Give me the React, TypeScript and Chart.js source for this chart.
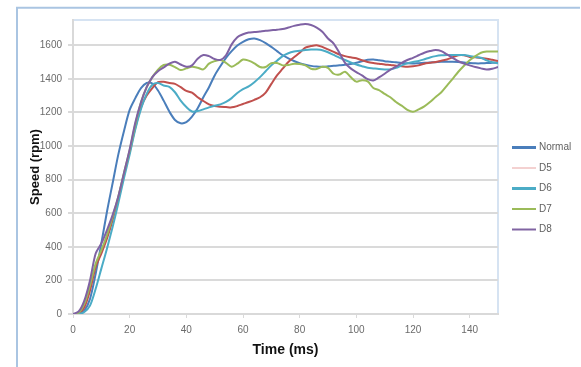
import React, { useEffect, useRef } from "react";
import { Chart, registerables } from "chart.js";

Chart.register(...registerables);

// Time axis (ms)
const TIME_MS = [
  0, 2, 4, 6, 8, 10, 12, 14, 16, 18,
  20, 22, 24, 26, 28, 30, 32, 34, 36, 38,
  40, 42, 44, 46, 48, 50, 52, 54, 56, 58,
  60, 62, 64, 66, 68, 70, 72, 74, 76, 78,
  80, 82, 84, 86, 88, 90, 92, 94, 96, 98,
  100, 102, 104, 106, 108, 110, 112, 114, 116, 118,
  120, 122, 124, 126, 128, 130, 132, 134, 136, 138,
  140, 142, 144, 146, 148, 150,
];

const SERIES_NAMES = ["Normal", "D5", "D6", "D7", "D8"];

const NORMAL = [
  0, 3, 20, 90, 240, 420, 610, 780, 950, 1090,
  1215, 1285, 1345, 1375, 1372, 1330, 1270, 1205, 1155, 1135,
  1142, 1175, 1225, 1290, 1350, 1420, 1475, 1525, 1565, 1598,
  1620, 1635, 1640, 1630, 1612, 1590, 1565, 1540, 1522, 1506,
  1493, 1484, 1477, 1473, 1472, 1474, 1477, 1480, 1484, 1488,
  1495, 1505, 1513, 1515, 1510, 1505, 1502, 1498, 1494, 1492,
  1491, 1493, 1495, 1497, 1499, 1501, 1502, 1502, 1500, 1497,
  1494, 1492, 1492, 1494, 1495, 1496,
];

const D5 = [
  0, 3, 40, 140, 280, 360, 450, 560, 690, 830,
  965, 1110, 1230, 1300, 1345, 1380, 1382, 1375, 1370, 1350,
  1328, 1318, 1290, 1268, 1248, 1238, 1234, 1232, 1230, 1238,
  1250, 1262, 1275, 1290, 1318, 1370, 1420, 1460, 1500, 1528,
  1555, 1585, 1595, 1600, 1590, 1575, 1560, 1545, 1535, 1528,
  1522, 1510, 1500, 1494, 1490, 1485, 1482, 1478, 1475, 1472,
  1474, 1480, 1490, 1495, 1500, 1508, 1515, 1528, 1540, 1540,
  1530, 1528, 1524, 1520, 1513, 1506,
];

const D6 = [
  0, 0, 12, 50, 150, 270, 390, 520, 660, 810,
  950, 1100, 1220, 1310, 1365, 1375, 1360, 1352, 1320, 1270,
  1232, 1205, 1208, 1218, 1230, 1240, 1248, 1262, 1285, 1315,
  1338, 1355, 1380, 1410, 1445, 1480, 1508, 1535, 1552, 1562,
  1567, 1572, 1575, 1574, 1570, 1558, 1542, 1526, 1512, 1498,
  1485, 1475, 1466, 1462, 1458, 1456, 1456, 1465, 1480, 1492,
  1500, 1506, 1516, 1527, 1535, 1540, 1542, 1542, 1542, 1541,
  1536, 1530, 1525, 1510, 1498, 1492,
];

const D7 = [
  0, 8, 60, 170, 300, 380, 470, 580, 700, 840,
  975, 1130, 1260, 1350, 1410, 1455, 1482, 1484, 1470, 1452,
  1462, 1472, 1466, 1456, 1490, 1505, 1512, 1495, 1472, 1490,
  1515, 1508, 1492, 1470, 1470, 1493, 1494, 1480, 1482, 1490,
  1488, 1480, 1460, 1458, 1472, 1465, 1430, 1425, 1442, 1410,
  1383, 1392, 1385, 1345, 1333, 1310, 1290, 1262, 1240, 1215,
  1204, 1218, 1236, 1262, 1292, 1320, 1360, 1400, 1442, 1478,
  1510, 1535, 1555, 1562, 1563, 1562,
];

const D8 = [
  0, 15, 80, 200, 360, 420, 500, 590, 700, 840,
  980, 1140, 1260, 1350, 1410, 1445, 1468, 1490, 1502, 1485,
  1472, 1480, 1520, 1542, 1535, 1518, 1512, 1540, 1605, 1648,
  1665, 1675, 1678, 1682, 1686, 1689, 1692, 1696, 1705, 1715,
  1722, 1726, 1720, 1705, 1680, 1640, 1610, 1555, 1495, 1462,
  1440, 1420, 1398, 1390, 1408, 1430, 1455, 1472, 1495, 1512,
  1525, 1540, 1555, 1565, 1571, 1565, 1545, 1525, 1505, 1490,
  1480, 1470, 1462, 1455, 1460, 1470,
];

const SERIES_VALUES = [NORMAL, D5, D6, D7, D8];

// Styles
const LINE_COLORS = ["#4a7ebb", "#c0504d", "#4bacc6", "#9bbb59", "#7f62a4"];
const LEGEND_COLORS = ["#4a7ebb", "#e8a3a2", "#4bacc6", "#9bbb59", "#8064a2"];
const LEGEND_WIDTHS = [3, 1, 3, 2, 2];
const FONT = "'Liberation Sans', Arial, sans-serif";

const framePlugin = {
  id: "frame",
  beforeDraw(chart: any) {
    const ctx = chart.ctx;
    const { left, top, right, bottom } = chart.chartArea;
    ctx.save();
    ctx.fillStyle = "#ffffff";
    ctx.fillRect(0, 0, chart.width, chart.height);
    ctx.strokeStyle = "#aac5e2";
    ctx.lineWidth = 2;
    ctx.beginPath();
    ctx.moveTo(17, chart.height);
    ctx.lineTo(17, 7.7);
    ctx.lineTo(chart.width - 1, 7.7);
    ctx.stroke();
    ctx.strokeStyle = "#d6e3f2";
    ctx.lineWidth = 2;
    ctx.beginPath();
    ctx.moveTo(left, top);
    ctx.lineTo(right, top);
    ctx.lineTo(right, bottom);
    ctx.stroke();
    ctx.restore();
  },
  afterDraw(chart: any) {
    const ctx = chart.ctx;
    ctx.save();
    ctx.font = `10px ${FONT}`;
    ctx.textBaseline = "middle";
    ctx.textAlign = "left";
    chart.data.datasets.forEach((ds: any, i: number) => {
      const y = 147.5 + i * 20.5;
      ctx.strokeStyle = LEGEND_COLORS[i];
      ctx.lineWidth = LEGEND_WIDTHS[i];
      ctx.beginPath();
      ctx.moveTo(512, y);
      ctx.lineTo(536, y);
      ctx.stroke();
      ctx.fillStyle = "#5f5f5f";
      ctx.fillText(ds.label, 539, y);
    });
    ctx.restore();
  },
};

export default function App() {
  const canvasRef = useRef<HTMLCanvasElement | null>(null);

  useEffect(() => {
    if (!canvasRef.current) return;
    const datasets = SERIES_NAMES.map((name, i) => ({
      label: name,
      data: TIME_MS.map((t, j) => ({ x: t, y: SERIES_VALUES[i][j] })),
      borderColor: LINE_COLORS[i],
      backgroundColor: LINE_COLORS[i],
      borderWidth: 2,
      pointRadius: 0,
      tension: 0.3,
      fill: false,
      order: SERIES_NAMES.length - 1 - i,
    }));

    const chart = new Chart(canvasRef.current, {
      type: "line",
      data: { datasets },
      options: {
        responsive: false,
        animation: false,
        layout: { padding: { top: 20, right: 83, bottom: 0, left: 0 } },
        plugins: {
          legend: { display: false },
          tooltip: { enabled: false },
        },
        scales: {
          x: {
            type: "linear",
            min: 0,
            max: 150,
            ticks: {
              stepSize: 20,
              includeBounds: false,
              padding: 6,
              color: "#6b6b6b",
              font: { size: 10, family: FONT },
              maxRotation: 0,
              callback: (v: any) => String(v),
            },
            grid: {
              drawOnChartArea: false,
              tickLength: 4,
              color: "#d9d9d9",
              lineWidth: 1,
            },
            border: { color: "#d9d9d9", width: 2 },
            title: {
              display: true,
              text: "Time (ms)",
              color: "#111",
              font: { size: 14, weight: "bold", family: FONT },
              padding: { top: 0, bottom: 8 },
            },
            afterFit(scale: any) {
              scale.height = 53;
            },
          },
          y: {
            type: "linear",
            min: 0,
            max: 1750,
            ticks: {
              stepSize: 200,
              includeBounds: false,
              padding: 6,
              color: "#6b6b6b",
              font: { size: 10, family: FONT },
              callback: (v: any) => String(v),
            },
            grid: { color: "#dadada", lineWidth: 2, tickLength: 5 },
            border: { color: "#d9d9d9", width: 2 },
            title: {
              display: true,
              text: "Speed (rpm)",
              color: "#111",
              font: { size: 13, weight: "bold", family: FONT },
              padding: { top: 28, bottom: 0 },
            },
            afterFit(scale: any) {
              scale.width = 73;
            },
          },
        },
      },
      plugins: [framePlugin],
    });

    return () => chart.destroy();
  }, []);

  return (
    <div style={{ position: "fixed", left: 0, top: 0, width: 581, height: 367 }}>
      <canvas ref={canvasRef} width={581} height={367} style={{ display: "block" }} />
    </div>
  );
}
